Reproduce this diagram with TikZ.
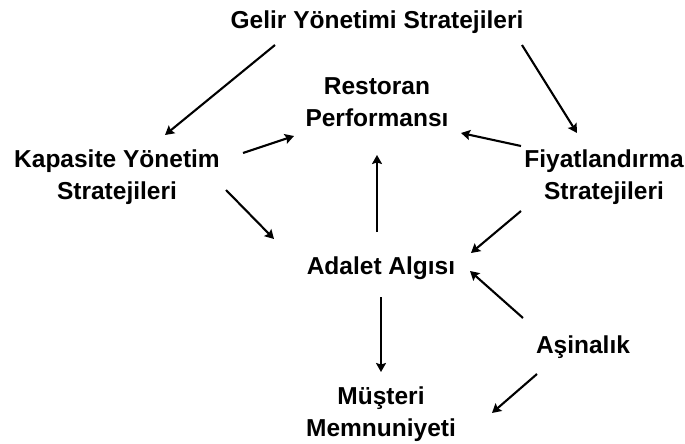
\documentclass[tikz,border=0pt]{standalone}
\usepackage{fontspec}
\setmainfont{Liberation Sans}
\usetikzlibrary{arrows.meta}
\begin{document}
\begin{tikzpicture}[x=1pt,y=-1pt,
  lbl/.style={align=center,font=\bfseries\fontsize{24.5}{32}\selectfont,inner sep=0pt},
  arr/.style={line width=2.1pt,-{Stealth[length=9pt,width=10pt,inset=1.5pt]}}]
\useasboundingbox (0,0) rectangle (685,444);
\node[lbl] (gelir) at (377,22) {Gelir Yönetimi Stratejileri};
\node[lbl] (rest) at (377,102) {Restoran\\Performansı};
\node[lbl] (kap) at (117,177) {Kapasite Yönetim\\Stratejileri};
\node[lbl] (fiy) at (604,177) {Fiyatlandırma\\Stratejileri};
\node[lbl] (adl) at (381,268) {Adalet Algısı};
\node[lbl] (asi) at (583,347) {Aşinalık};
\node[lbl] (mus) at (381,414) {Müşteri\\Memnuniyeti};
\draw[arr] ([shift={(-102,23)}]gelir.center) -- ([shift={(48,-42)}]kap.center);
\draw[arr] ([shift={(145,23)}]gelir.center) -- ([shift={(-27,-44)}]fiy.center);
\draw[arr] ([shift={(126,-24)}]kap.center) -- ([shift={(-83,34)}]rest.center);
\draw[arr] ([shift={(-83,-31)}]fiy.center) -- ([shift={(84,31)}]rest.center);
\draw[arr] ([shift={(109,13)}]kap.center) -- ([shift={(-107,-29)}]adl.center);
\draw[arr] ([shift={(-4,-36)}]adl.center) -- ([shift={(0,53)}]rest.center);
\draw[arr] ([shift={(-83,34)}]fiy.center) -- ([shift={(90,-15)}]adl.center);
\draw[arr] ([shift={(-60,-29)}]asi.center) -- ([shift={(89,3)}]adl.center);
\draw[arr] ([shift={(0,29)}]adl.center) -- ([shift={(0,-42)}]mus.center);
\draw[arr] ([shift={(-46,27)}]asi.center) -- ([shift={(111,-1)}]mus.center);
\end{tikzpicture}
\end{document}
